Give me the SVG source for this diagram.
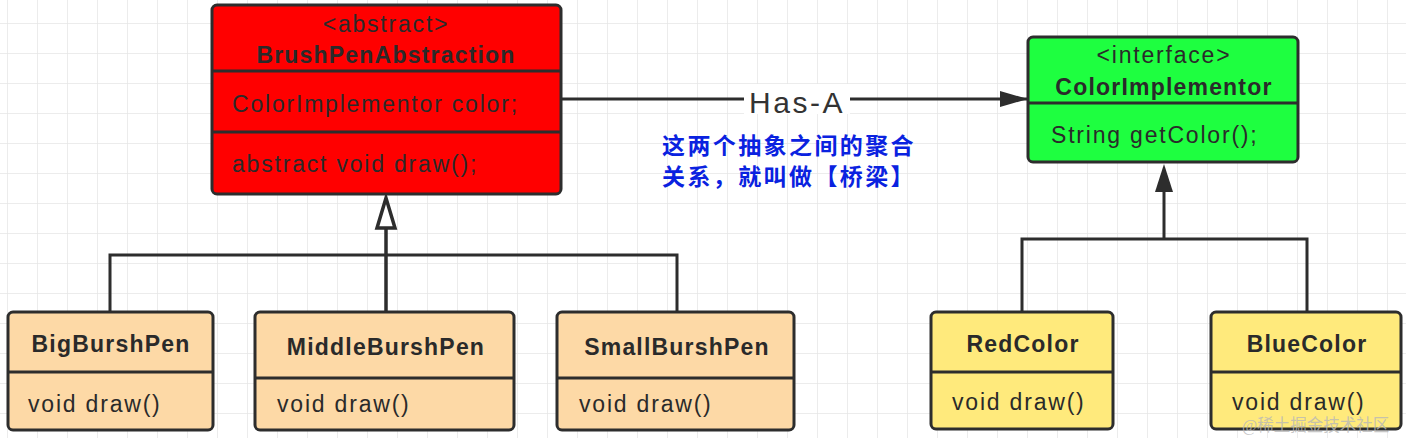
<svg xmlns="http://www.w3.org/2000/svg" width="1406" height="438" viewBox="0 0 1406 438">
<defs>
<pattern id="grid" x="7" y="23" width="30" height="30" patternUnits="userSpaceOnUse">
<path d="M0 0 H30 M0 0 V30" fill="none" stroke="#e6e6e6" stroke-width="1.5"/>
</pattern>
<marker id="filled" markerWidth="28" markerHeight="18" refX="28" refY="9" orient="auto" markerUnits="userSpaceOnUse">
<path d="M0 1 L28 9 L0 17 Z" fill="#2d2d2d"/>
</marker>
</defs>
<style>
.box{stroke:#2d2d2d;stroke-width:3}
.div{stroke:#2d2d2d;stroke-width:3}
.red{fill:#ff0000}
.green{fill:#1eff40}
.peach{fill:#fdd9a6}
.yellow{fill:#ffea7c}
.t{font-family:"Liberation Sans",Arial,sans-serif;font-size:23px;letter-spacing:1.8px;fill:#2a2a2a}
.b{font-family:"Liberation Sans",Arial,sans-serif;font-size:23px;font-weight:bold;letter-spacing:1.2px;fill:#2a2a2a;text-anchor:middle}
.m{text-anchor:middle}
.conn{fill:none;stroke:#2d2d2d;stroke-width:3}
.cn{font-family:"Noto Sans CJK SC","Noto Sans",sans-serif;font-size:23px;font-weight:bold;letter-spacing:2.4px;fill:#0a22e0}
.wm{font-family:"Liberation Serif","Noto Sans CJK SC",serif;font-size:16.5px;fill:#b8b8b8;fill-opacity:0.8}
</style>
<rect width="1406" height="438" fill="#ffffff"/>
<rect width="1406" height="438" fill="url(#grid)"/>

<g id="connectors">
<path class="conn" d="M561 99 H1028" marker-end="url(#filled)"/>
<rect x="744" y="84" width="106" height="30" fill="#ffffff"/>
<text x="797" y="113" class="t m" style="font-size:30px;letter-spacing:2.5px;fill:#333">Has-A</text>
<path class="conn" d="M110 312 V255 H677 V312"/>
<path class="conn" d="M386 312 V228" style="stroke-width:3.5"/>
<polygon points="386,198 377,228 395,228" fill="#ffffff" stroke="#2d2d2d" stroke-width="3.5" stroke-linejoin="miter"/>
<path class="conn" d="M1022 312 V239 H1307 V312"/>
<path class="conn" d="M1164 239 V190"/>
<polygon points="1164,164 1155,192 1173,192" fill="#2d2d2d"/>
</g>

<g id="note">
<text x="662" y="154" class="cn">这两个抽象之间的聚合</text>
<text x="662" y="185" class="cn">关系，就叫做【桥梁】</text>
</g>

<g id="BrushPenAbstraction">
<rect x="212" y="5" width="349" height="189" rx="5" class="box red"/>
<line x1="212" y1="71" x2="561" y2="71" class="div"/>
<line x1="212" y1="132" x2="561" y2="132" class="div"/>
<text x="386" y="32" class="t m">&lt;abstract&gt;</text>
<text x="386" y="63" class="b">BrushPenAbstraction</text>
<text x="232" y="112" class="t">ColorImplementor color;</text>
<text x="232" y="172" class="t">abstract void draw();</text>
</g>

<g id="ColorImplementor">
<rect x="1028" y="37" width="270" height="125" rx="5" class="box green"/>
<line x1="1028" y1="103" x2="1298" y2="103" class="div"/>
<text x="1164" y="63" class="t m">&lt;interface&gt;</text>
<text x="1164" y="95" class="b">ColorImplementor</text>
<text x="1051" y="143" class="t">String getColor();</text>
</g>

<g id="BigBurshPen">
<rect x="8" y="312" width="205" height="118" rx="5" class="box peach"/>
<line x1="8" y1="372" x2="213" y2="372" class="div"/>
<text x="111" y="352" class="b">BigBurshPen</text>
<text x="28" y="412" class="t">void draw()</text>
</g>

<g id="MiddleBurshPen">
<rect x="255" y="312" width="259" height="118" rx="5" class="box peach"/>
<line x1="255" y1="378" x2="514" y2="378" class="div"/>
<text x="386" y="355" class="b">MiddleBurshPen</text>
<text x="277" y="412" class="t">void draw()</text>
</g>

<g id="SmallBurshPen">
<rect x="557" y="312" width="237" height="118" rx="5" class="box peach"/>
<line x1="557" y1="378" x2="794" y2="378" class="div"/>
<text x="677" y="355" class="b">SmallBurshPen</text>
<text x="579" y="412" class="t">void draw()</text>
</g>

<g id="RedColor">
<rect x="931" y="312" width="182" height="117" rx="5" class="box yellow"/>
<line x1="931" y1="372" x2="1113" y2="372" class="div"/>
<text x="1023" y="352" class="b">RedColor</text>
<text x="952" y="410" class="t">void draw()</text>
</g>

<g id="BlueColor">
<rect x="1211" y="312" width="190" height="117" rx="5" class="box yellow"/>
<line x1="1211" y1="372" x2="1401" y2="372" class="div"/>
<text x="1307" y="352" class="b">BlueColor</text>
<text x="1232" y="410" class="t">void draw()</text>
</g>

<text x="1242" y="431" class="wm">@稀土掘金技术社区</text>
</svg>
